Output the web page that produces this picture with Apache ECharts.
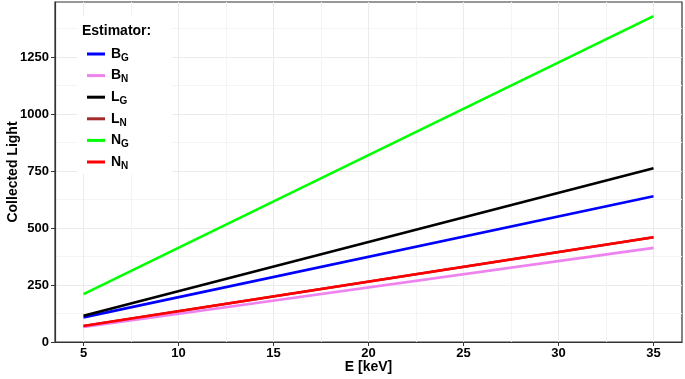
<!DOCTYPE html>
<html>
<head>
<meta charset="utf-8">
<script src="https://cdn.jsdelivr.net/npm/echarts@6/dist/echarts.min.js"></script>
<style>
html,body{margin:0;padding:0;background:#fff;}
#chart{width:685px;height:379px;}
</style>
</head>
<body>
<div id="chart"></div>
<script>
var chart = echarts.init(document.getElementById('chart'));

// E [keV] at the two ends of each line
var energy = [5, 35];
var seriesNames = ['B_G', 'B_N', 'L_G', 'L_N', 'N_G', 'N_N'];
var bG = [108, 640];
var bN = [66, 413];
var lG = [115, 762];
var lN = [70, 460];
var nG = [210, 1430];
var nN = [70, 460];
var colors = ['#0000ff', '#ee82ee', '#000000', '#a52a2a', '#00ff00', '#ff0000'];

var xTicks = [5, 10, 15, 20, 25, 30, 35];
var xMinor = [7.5, 12.5, 17.5, 22.5, 27.5, 32.5];
var yTicks = [0, 250, 500, 750, 1000, 1250];
var yMinor = [125, 375, 625, 875, 1125, 1375];

var allValues = [bG, bN, lG, lN, nG, nN];
function pairs(vals){
    return energy.map(function(e, i){ return [e, vals[i]]; });
}

var font = 'Liberation Sans, Arial, sans-serif';

// legend labels with subscripts
function legendLabel(name){
    var p = name.split('_');
    return '{m|' + p[0] + '}{s|' + p[1] + '}';
}

var series = seriesNames.map(function(n, i){
    return {
        name: n,
        type: 'line',
        data: pairs(allValues[i]),
        showSymbol: false,
        symbol: 'none',
        lineStyle: {width: 2.6, color: colors[i]},
        itemStyle: {color: colors[i]},
        z: i === 3 ? 1 : 2
    };
});

var option = {
    animation: false,
    backgroundColor: '#fff',
    grid: {
        left: 55, right: 3, top: 2, bottom: 37,
        outerBoundsMode: 'none', containLabel: false,
        show: true, borderColor: '#333', borderWidth: 1.2, backgroundColor: '#fff'
    },
    xAxis: [
        {
            type: 'value', min: 3.5, max: 36.5,
            name: 'E [keV]', nameLocation: 'middle', nameGap: 18, nameMoveOverlap: false,
            nameTextStyle: {fontFamily: font, fontWeight: 'bold', fontSize: 14, color: '#000'},
            axisLine: {show: true, onZero: false, lineStyle: {color: '#333', width: 1.2}},
            axisTick: {show: true, length: 4, customValues: xTicks, lineStyle: {color: '#333'}},
            axisLabel: {customValues: xTicks, margin: 5, fontFamily: font, fontWeight: 'bold', fontSize: 13, color: '#000'},
            splitLine: {show: true, lineStyle: {color: '#ebebeb', width: 1}}
        },
        {
            type: 'value', min: 3.5, max: 36.5, position: 'bottom',
            axisLine: {show: false},
            axisTick: {show: false, customValues: xMinor},
            axisLabel: {show: false, customValues: xMinor},
            splitLine: {show: true, lineStyle: {color: '#f4f4f4', width: 1}}
        }
    ],
    yAxis: [
        {
            type: 'value', min: 0, max: 1492,
            name: 'Collected Light', nameLocation: 'middle', nameGap: 35, nameRotate: 90, nameMoveOverlap: false,
            nameTextStyle: {fontFamily: font, fontWeight: 'bold', fontSize: 14, color: '#000'},
            axisLine: {show: true, lineStyle: {color: '#333', width: 1.2}},
            axisTick: {show: true, length: 4, customValues: yTicks, lineStyle: {color: '#333'}},
            axisLabel: {customValues: yTicks, margin: 6, fontFamily: font, fontWeight: 'bold', fontSize: 13, color: '#000',
                formatter: function(v){ return String(v); }},
            splitLine: {show: true, lineStyle: {color: '#ebebeb', width: 1}}
        },
        {
            type: 'value', min: 0, max: 1492, position: 'left',
            axisLine: {show: false},
            axisTick: {show: false, customValues: yMinor},
            axisLabel: {show: false, customValues: yMinor},
            splitLine: {show: true, lineStyle: {color: '#f4f4f4', width: 1}}
        }
    ],
    graphic: [
        {type: 'rect', left: 77, top: 16, z: 50, shape: {width: 95, height: 158}, style: {fill: '#fff'}},
        {type: 'text', left: 82, top: 24, z: 51, style: {text: 'Estimator:', fontFamily: font, fontWeight: 'bold', fontSize: 14, fill: '#000'}}
    ],
    legend: {
        orient: 'vertical', left: 82, top: 42, z: 60,
        itemWidth: 18, itemHeight: 3, itemGap: 5.6,
        icon: 'rect',
        data: seriesNames,
        formatter: legendLabel,
        textStyle: {
            fontFamily: font, color: '#000', padding: [0, 0, 0, 1],
            rich: {
                m: {fontFamily: font, fontWeight: 'bold', fontSize: 14, color: '#000', height: 16},
                s: {fontFamily: font, fontWeight: 'bold', fontSize: 10, color: '#000', padding: [8, 0, 0, 0]}
            }
        }
    },
    series: series
};
chart.setOption(option);
</script>
</body>
</html>
